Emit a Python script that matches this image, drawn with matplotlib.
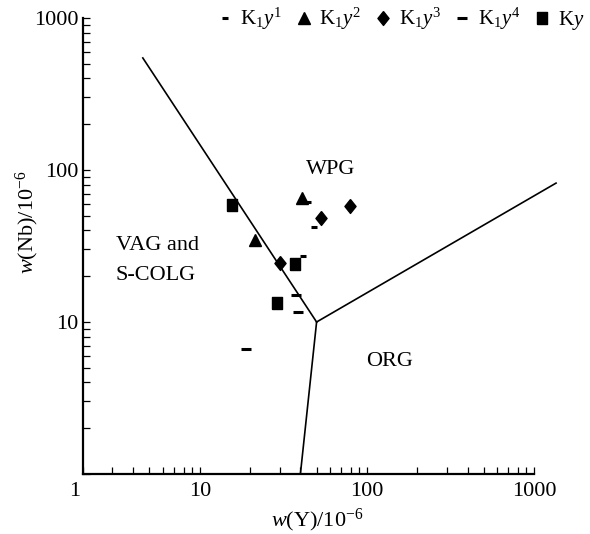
import matplotlib
matplotlib.use("Agg")
import matplotlib.pyplot as plt
from matplotlib.transforms import ScaledTranslation

plt.rcParams['font.family'] = ['Liberation Serif', 'DejaVu Serif']
plt.rcParams['mathtext.fontset'] = 'custom'
plt.rcParams['mathtext.rm'] = 'Liberation Serif'
plt.rcParams['mathtext.it'] = 'Liberation Serif:italic'
plt.rcParams['mathtext.bf'] = 'Liberation Serif:bold'

# ---- data (Y, Nb in ppm) ----
k1y1_Y = [48.2, 41.4, 44.4]
k1y1_Nb = [42.2, 27.2, 61.5]
k1y2_Y = [21.3, 40.8]
k1y2_Nb = [34.6, 65.5]
k1y3_Y = [30.1, 53.1, 79.1]
k1y3_Nb = [24.4, 48.3, 58.0]
k1y4_Y = [37.6, 38.6, 18.8]
k1y4_Nb = [15.1, 11.6, 6.6]
ky_Y = [15.5, 37.1, 28.9]
ky_Nb = [58.9, 24.1, 13.3]

# field boundaries
b1_Y = [4.56, 50]
b1_Nb = [546, 10]
b2_Y = [50, 40]
b2_Nb = [10, 1]
b3_Y = [50, 1355]
b3_Nb = [10, 82]

x_ticks = [2, 10, 100, 1000]
x_ticklabels = ['1', '10', '100', '1000']
y_ticks = [1, 10, 100, 1000]
y_ticklabels = ['', '10', '100', '1000']

fig = plt.figure(figsize=(5.9, 5.34), dpi=100)
ax = fig.add_axes([83/590, 60/534, 451/590, 456/534])
ax.set_xscale('log')
ax.set_yscale('log')
ax.set_xlim(2, 1000)
ax.set_ylim(1, 1000)

for xs, ys in [(b1_Y, b1_Nb), (b2_Y, b2_Nb), (b3_Y, b3_Nb)]:
    ax.plot(xs, ys, color='black', lw=1.2, clip_on=False, zorder=2)

rect = [(-0.4, -0.5), (0.4, -0.5), (0.4, 0.5), (-0.4, 0.5), (-0.4, -0.5)]
diam = [(0, 0.5), (0.4, 0), (0, -0.5), (-0.4, 0), (0, 0.5)]

ax.plot(k1y1_Y, k1y1_Nb, ls='none', marker='_', ms=4.5, mew=2.2, color='black',
        label=r'$\mathrm{K}_1y^1$', zorder=3)
ax.plot(k1y2_Y, k1y2_Nb, ls='none', marker='^', ms=9, color='black',
        label=r'$\mathrm{K}_1y^2$', zorder=3)
ax.plot(k1y3_Y, k1y3_Nb, ls='none', marker=diam, ms=10, color='black',
        label=r'$\mathrm{K}_1y^3$', zorder=3)
ax.plot(k1y4_Y, k1y4_Nb, ls='none', marker='_', ms=7, mew=2.2, color='black',
        label=r'$\mathrm{K}_1y^4$', zorder=3)
ax.plot(ky_Y, ky_Nb, ls='none', marker=rect, ms=9, color='black',
        label=r'$\mathrm{K}y$', zorder=3)

for s in ['top', 'right']:
    ax.spines[s].set_visible(False)
for s in ['left', 'bottom']:
    ax.spines[s].set_linewidth(1.6)

ax.tick_params(which='both', direction='in', length=5, width=0.9, labelsize=16)
ax.tick_params(axis='x', which='both', pad=6)
ax.tick_params(axis='y', which='both', pad=3.5)
ax.set_xticks(x_ticks)
ax.set_xticklabels(x_ticklabels)
ax.set_yticks(y_ticks)
ax.set_yticklabels(y_ticklabels)
lab = ax.get_xticklabels()[0]
lab.set_transform(lab.get_transform() + ScaledTranslation(-8/100, 0, fig.dpi_scale_trans))

ax.text(61, 100, 'WPG', fontsize=16, ha='center', va='center')
ax.text(3.14, 32, 'VAG and', fontsize=16, ha='left', va='center')
ax.text(3.14, 20.1, 'S-COLG', fontsize=16, ha='left', va='center')
ax.text(137, 5.46, 'ORG', fontsize=16, ha='center', va='center')

fig.text(317/590, 1 - 520/534, r'$w$(Y)/10$^{-6}$', fontsize=16, ha='center', va='center')
fig.text(27/590, 1 - 222/534, r'$w$(Nb)/10$^{-6}$', fontsize=16, ha='center', va='center',
         rotation=90)

leg = ax.legend(loc='upper right', bbox_to_anchor=(584/590, 1 - 6/534),
                bbox_transform=fig.transFigure, ncol=5, frameon=False,
                fontsize=15, handlelength=0.8, handletextpad=0.35,
                columnspacing=0.65, borderaxespad=0, borderpad=0)

fig.savefig('out.png', dpi=100)
